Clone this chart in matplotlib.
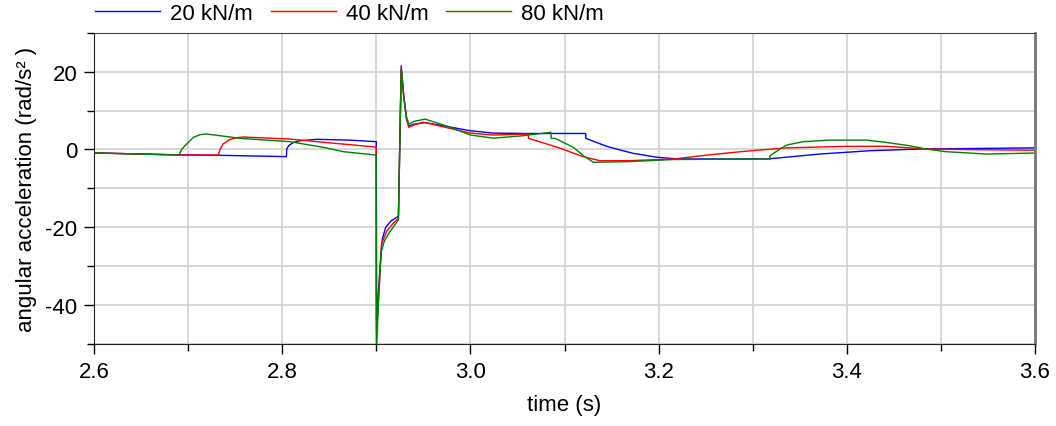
import matplotlib
matplotlib.use("Agg")
import matplotlib.pyplot as plt
from matplotlib.ticker import MultipleLocator, FormatStrFormatter

# time (s) / angular acceleration (rad/s^2)
t_20 = [2.600, 2.690, 2.732, 2.8045, 2.8048, 2.807, 2.812, 2.819, 2.837, 2.870, 2.9000,
        2.9002, 2.9035, 2.9064, 2.910, 2.916, 2.9235, 2.9265, 2.929, 2.932, 2.9345, 2.940,
        2.952, 2.975, 3.000, 3.024, 3.060, 3.1225, 3.1227, 3.1448, 3.160, 3.173, 3.198,
        3.220, 3.2865, 3.318, 3.3715, 3.4246, 3.4778, 3.600]
a_20 = [-0.9, -1.4, -1.5, -1.85, 0.1, 1.0, 1.8, 2.24, 2.6, 2.4, 2.0,
        -44, -32, -23, -20, -18.3, -17.2, 21.5, 14.2, 8.0, 6.0, 6.5,
        6.9, 5.9, 4.8, 4.2, 4.1, 4.1, 2.85, 0.8, -0.2, -1.0, -2.0,
        -2.45, -2.47, -2.4, -1.18, -0.33, 0.1, 0.4]

t_40 = [2.600, 2.690, 2.732, 2.734, 2.737, 2.744, 2.7513, 2.758, 2.808, 2.850, 2.9000,
        2.9002, 2.903, 2.9055, 2.9113, 2.9183, 2.9235, 2.9265, 2.929, 2.932, 2.9345, 2.940,
        2.950, 2.975, 3.000, 3.024, 3.0615, 3.0617, 3.0927, 3.120, 3.1377, 3.166, 3.2155,
        3.250, 3.2865, 3.300, 3.336, 3.400, 3.442, 3.4844, 3.548, 3.600]
a_40 = [-0.9, -1.4, -1.45, 0.0, 1.39, 2.5, 3.0, 3.2, 2.67, 1.7, 0.6,
        -47, -36, -24.3, -20.9, -18.9, -17.7, 21.0, 14.0, 8.0, 5.7, 6.3,
        7.0, 5.6, 4.2, 3.7, 3.95, 2.85, 0.54, -1.87, -2.9, -2.9, -2.47,
        -1.5, -0.6, -0.3, 0.4, 0.8, 0.8, 0.1, -0.1, -0.2]

t_80 = [2.600, 2.6907, 2.693, 2.6985, 2.7056, 2.7126, 2.7197, 2.735, 2.755, 2.808, 2.844,
        2.865, 2.9000, 2.9002, 2.9025, 2.905, 2.9087, 2.914, 2.9235, 2.9265, 2.929, 2.932,
        2.9345, 2.940, 2.9518, 2.975, 3.000, 3.0241, 3.055, 3.0856, 3.0858, 3.090, 3.1094,
        3.120, 3.1307, 3.166, 3.2155, 3.2865, 3.3183, 3.3185, 3.3237, 3.336, 3.3538, 3.382,
        3.4207, 3.442, 3.4667, 3.4844, 3.5057, 3.548, 3.600]
a_80 = [-0.9, -1.44, 0.0, 1.39, 3.1, 3.8, 3.96, 3.5, 2.85, 2.0, 0.53,
        -0.58, -1.44, -52, -38, -26.4, -23.5, -21.3, -18.1, 20.5, 14.0, 8.5,
        6.5, 7.2, 7.8, 6.0, 3.7, 2.9, 3.5, 4.4, 2.85, 2.85, 0.54,
        -1.6, -3.3, -3.15, -2.6, -2.47, -2.45, -1.6, -0.75, 1.13, 2.0, 2.4,
        2.4, 1.8, 0.95, 0.1, -0.58, -1.18, -0.93]

labels = ["20 kN/m", "40 kN/m", "80 kN/m"]
colors = ["#0000ff", "#ff0000", "#008000"]

plt.rcParams["font.family"] = ["Liberation Sans", "DejaVu Sans"]
plt.rcParams["axes.unicode_minus"] = False
fs = 16

fig = plt.figure(figsize=(10.56, 4.27), dpi=100)
ax = fig.add_axes([94 / 1056, 1 - 345 / 427, (1035 - 94) / 1056, (345 - 33.7) / 427])

for t, a, lab, c in zip([t_20, t_40, t_80], [a_20, a_40, a_80], labels, colors):
    ax.plot(t, a, color=c, lw=1.0, label=lab)

ax.set_xlim(2.6, 3.6)
ax.set_ylim(-50, 30)
ax.xaxis.set_major_locator(MultipleLocator(0.2))
ax.xaxis.set_minor_locator(MultipleLocator(0.1))
ax.xaxis.set_major_formatter(FormatStrFormatter("%.1f"))
ax.yaxis.set_major_locator(MultipleLocator(20))
ax.yaxis.set_minor_locator(MultipleLocator(10))
ax.grid(which="both", color="#d4d4d4", lw=1.3)
ax.set_axisbelow(True)
ax.tick_params(which="major", direction="out", length=7, width=1, labelsize=fs, pad=5)
ax.tick_params(which="minor", direction="out", length=5, width=1)

for side in ["left", "bottom"]:
    ax.spines[side].set_color("#222222")
ax.spines["top"].set_color("#444444")
ax.spines["right"].set_color("#777777")
ax.spines["right"].set_linewidth(2)

ax.set_xlabel("time (s)", fontsize=fs, labelpad=9)
ax.set_ylabel("angular acceleration (rad/s² )", fontsize=fs, labelpad=6)

fig.legend(loc="center left", bbox_to_anchor=(95 / 1056, 1 - 14 / 427), ncol=3, frameon=False,
           fontsize=fs, handlelength=2.93, handletextpad=0.45, columnspacing=0.8, borderpad=0,
           borderaxespad=0)

fig.savefig("out.png", dpi=100)
